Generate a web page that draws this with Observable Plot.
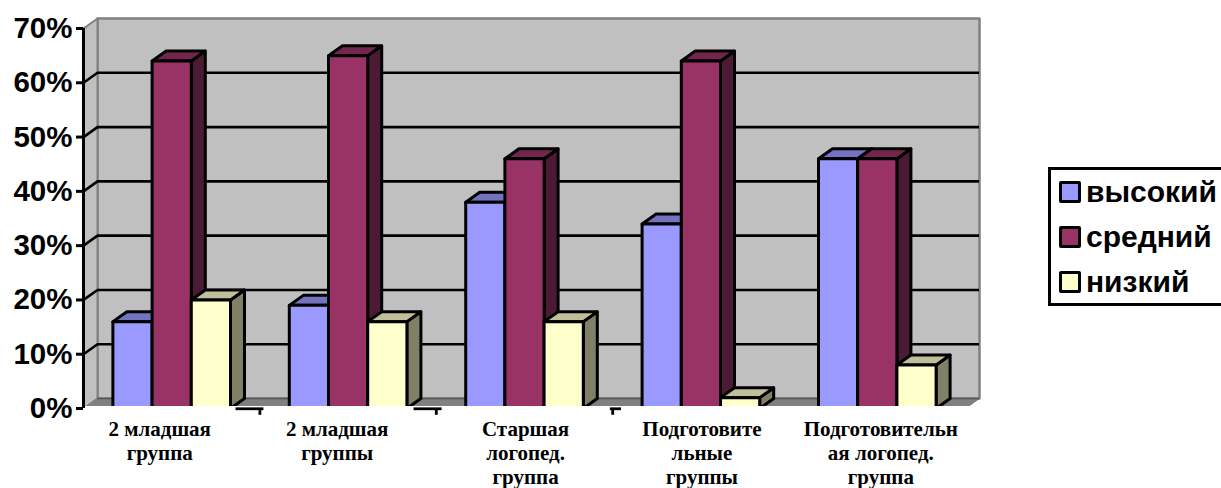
<!DOCTYPE html>
<html lang="ru">
<head>
<meta charset="utf-8">
<script src="https://cdn.jsdelivr.net/npm/d3@7"></script>
<script src="https://cdn.jsdelivr.net/npm/@observablehq/plot@0.6"></script>
<style>
  html, body { margin: 0; padding: 0; background: #fff; overflow: hidden; }
  #chart { position: absolute; left: 0; top: 0; }
  #chart svg { display: block; }
  #legend { position: absolute; left: 1048px; top: 167px; width: 178px; height: 133px;
    border: 3px solid #000; box-sizing: content-box; background: #fff; font: bold 30px "Liberation Sans", Arial, sans-serif; color: #000; }
  #legend .row { position: absolute; left: 8px; height: 21px; line-height: 21px; white-space: nowrap; }
  #legend .sw { display: inline-block; position: absolute; left: 0; top: 0; width: 16px; height: 16px; border: 3px solid #000; border-radius: 2px; }
  #legend .lb { position: absolute; left: 27px; top: 0; }
</style>
</head>
<body>
<div id="chart"></div>
<div id="legend"></div>
<script>
const categories = ["2 младшая\nгруппа", "2 младшая\nгруппы", "Старшая\nлогопед.\nгруппа", "Подготовите\nльные\nгруппы", "Подготовительн\nая логопед.\nгруппа"];
const seriesNames = ["высокий", "средний", "низкий"];
const vysokiy = [0.16, 0.19, 0.38, 0.34, 0.46];
const sredniy = [0.64, 0.65, 0.46, 0.64, 0.46];
const nizkiy  = [0.20, 0.16, 0.16, 0.02, 0.08];
const seriesValues = [vysokiy, sredniy, nizkiy];
const yTicks = [0, 0.1, 0.2, 0.3, 0.4, 0.5, 0.6, 0.7];
const gridTicks = [0.1, 0.2, 0.3, 0.4, 0.5, 0.6];

const frontColors = ["#9999ff", "#993366", "#ffffcc"];
const topColors   = ["#7373bf", "#73264d", "#bfbf99"];
const sideColors  = ["#4d4d80", "#4d1a33", "#808066"];

// 3-D depth and bar layout in scale units
const depthX = 14 / 176.4, depthY = 0.0184;
const barW = 1 / 4.5, gap = 0.75 * barW;
const yFloorClip = 0.0037;
const labelNudge = [-0.068, -0.062, 0.006, 0.006, 0.02];
const axisPieces = [[0.862, 1.02], [1.871, 2.03], [2.984, 3.047]];
const xTicks = [1, 2, 3];

const faces = [];
let id = 0;
function face(pts, fill) {
  id++;
  [...pts, pts[0]].forEach(([x, y]) => faces.push({id, x, y, fill}));
}
categories.forEach((c, i) => {
  seriesValues.forEach((vals, s) => {
    const x0 = i + gap + s * barW, x1 = x0 + barW, v = vals[i];
    face([[x1, 0], [x1 + depthX, depthY], [x1 + depthX, v + depthY], [x1, v]], sideColors[s]);
    face([[x0, v], [x0 + depthX, v + depthY], [x1 + depthX, v + depthY], [x1, v]], topColors[s]);
    face([[x0, 0], [x1, 0], [x1, v], [x0, v]], frontColors[s]);
  });
});

const wall = [[depthX, depthY], [5 + depthX, depthY], [5 + depthX, 0.7 + depthY], [depthX, 0.7 + depthY], [depthX, depthY]]
  .map(([x, y]) => ({x, y}));
const sideWall = [[0, 0], [depthX, depthY], [depthX, 0.7 + depthY], [0, 0.7], [0, 0]].map(([x, y]) => ({x, y}));
const floor = [[0, 0], [5, 0], [5 + depthX, depthY], [depthX, depthY], [0, 0]].map(([x, y]) => ({x, y}));

const plot = Plot.plot({
  width: 1221, height: 488,
  marginLeft: 83, marginRight: 242, marginTop: 19, marginBottom: 80,
  style: {background: "transparent", overflow: "visible"},
  x: {domain: [0, 5], range: [83, 965], axis: null},
  y: {domain: [0, 0.7], range: [408, 28], axis: null},
  color: {type: "identity"},
  marks: [
    Plot.line(wall, {x: "x", y: "y", fill: "#c0c0c0", stroke: "#808080", strokeWidth: 2.5}),
    Plot.line(sideWall, {x: "x", y: "y", fill: "#c0c0c0", stroke: "#808080", strokeWidth: 2}),
    Plot.line(floor, {x: "x", y: "y", fill: "#808080", stroke: "#808080", strokeWidth: 1}),
    Plot.ruleY([depthY], {x1: depthX, x2: 5 + depthX, stroke: "#555", strokeWidth: 1.5}),
    Plot.ruleY(gridTicks, {y: d => d + depthY, x1: depthX, x2: 5 + depthX, stroke: "#000", strokeWidth: 2.6}),
    Plot.link(gridTicks, {x1: 0, y1: d => d, x2: depthX, y2: d => d + depthY, stroke: "#000", strokeWidth: 2.6}),
    Plot.line(faces, {x: "x", y: "y", z: "id", fill: d => d.fill, stroke: "#000", strokeWidth: 3, strokeLinejoin: "round"}),
    Plot.rect([0], {x1: -0.02, x2: 5.2, y1: -0.03, y2: yFloorClip, fill: "#fff"}),
    Plot.ruleX([0], {y1: 0, y2: 0.7, stroke: "#000", strokeWidth: 3}),
    Plot.axisY({ticks: yTicks, tickFormat: d3.format(".0%"), tickSize: 7, strokeWidth: 3, stroke: "#000", tickPadding: 4, fontSize: 29.5, fontWeight: "bold", fontFamily: "Liberation Sans, Arial, sans-serif", fill: "#000", label: null}),
    Plot.link(axisPieces, {x1: d => d[0], x2: d => d[1], y1: -0.0005, y2: -0.0005, stroke: "#000", strokeWidth: 2.8}),
    Plot.ruleX(xTicks, {y1: 0, y2: -0.0125, stroke: "#000", strokeWidth: 2.8}),
    Plot.text(categories, {
      x: (d, i) => i + 0.5 + labelNudge[i], y: -0.0208,
      text: d => d, textAnchor: "middle", lineAnchor: "top", lineHeight: 1.12,
      fontSize: 21, fontWeight: "bold", fontFamily: "Liberation Serif, Times New Roman, serif", fill: "#000"
    })
  ]
});
document.getElementById("chart").appendChild(plot);

const legend = document.getElementById("legend");
seriesNames.forEach((n, i) => {
  const r = document.createElement("div");
  r.className = "row";
  r.style.top = (11 + i * 45) + "px";
  const sw = document.createElement("span");
  sw.className = "sw"; sw.style.background = frontColors[i];
  const lb = document.createElement("span");
  lb.className = "lb"; lb.textContent = n;
  r.append(sw, lb);
  legend.append(r);
});
</script>
</body>
</html>
